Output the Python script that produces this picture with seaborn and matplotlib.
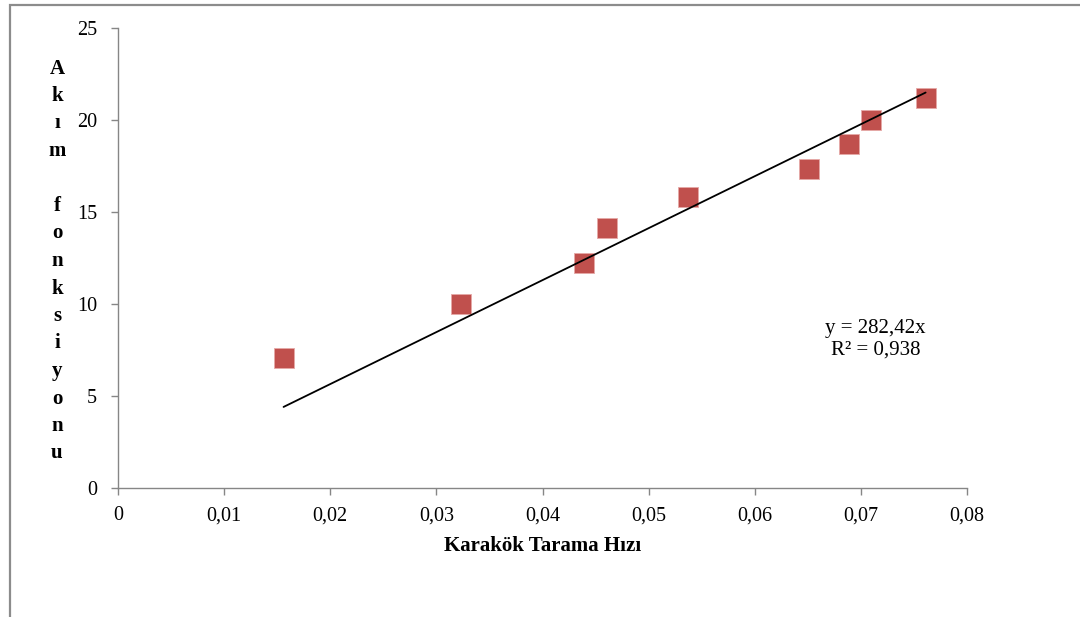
import matplotlib
matplotlib.use("Agg")
import matplotlib.pyplot as plt
import seaborn as sns
import numpy as np
import pandas as pd
from matplotlib.patches import Rectangle

# ---- data ----
scan_rate = [0.0156, 0.0323, 0.0439, 0.0461, 0.0537, 0.0651, 0.0689, 0.0710, 0.0761]
current_fn = [7.07, 10.0, 12.23, 14.13, 15.82, 17.34, 18.70, 20.0, 21.2]
slope = 282.42
r2 = 0.938
x_ticks = [0, 0.01, 0.02, 0.03, 0.04, 0.05, 0.06, 0.07, 0.08]
x_tick_labels = ["0", "0,01", "0,02", "0,03", "0,04", "0,05", "0,06", "0,07", "0,08"]
y_ticks = [0, 5, 10, 15, 20, 25]
x_label = "Karakök Tarama Hızı"
y_label = "Akım fonksiyonu"

sns.set_style("white")
plt.rcParams['font.family'] = ['Liberation Serif', 'DejaVu Serif']
plt.rcParams['text.color'] = 'black'

fig = plt.figure(figsize=(10.8, 6.17), dpi=100)
ax = fig.add_axes([118/1080, 1-488/617, (967-118)/1080, (488-28)/617])

df = pd.DataFrame({"x": scan_rate, "y": current_fn})
sns.scatterplot(data=df, x="x", y="y", marker="s", s=200, color="#C0504D",
                edgecolor="#E6A9A7", linewidth=0.6, ax=ax, zorder=3)

xs = np.array([min(scan_rate), max(scan_rate)])
trend = pd.DataFrame({"x": xs, "y": slope * xs})
sns.lineplot(data=trend, x="x", y="y", color="black", linewidth=1.3, ax=ax, zorder=4)

ax.set_xlim(0, 0.08)
ax.set_ylim(0, 25)
ax.set_xticks(x_ticks)
ax.set_xticklabels(x_tick_labels)
ax.set_yticks(y_ticks)
ax.set_yticklabels([str(v) for v in y_ticks])
ax.tick_params(axis="both", direction="out", length=5, width=1, color="#868686",
               labelsize=14.5, labelcolor="black", bottom=True, left=True)
ax.tick_params(axis="x", pad=8)
ax.tick_params(axis="y", pad=10)
for side in ["top", "right"]:
    ax.spines[side].set_visible(False)
for side in ["left", "bottom"]:
    ax.spines[side].set_color("#868686")
    ax.spines[side].set_linewidth(1)
ax.set_xlabel("")
ax.set_ylabel("")
ax.grid(False)

fig.text((441+645)/2/1080, 1-546/617, x_label, ha="center", va="center",
         fontsize=15, fontweight="bold")
fig.text(57/1080, 1-261/617, "\n".join(y_label), ha="center", va="center",
         fontsize=15, fontweight="bold", linespacing=1.50, multialignment="center")

ax.text(0.0714, 8.1, f"y = {slope:.2f}x".replace(".", ",") + "\n" + f"R² = {r2}".replace(".", ","),
        ha="center", va="center", fontsize=15, multialignment="center")

fig.patches.append(Rectangle((10/1080, -0.1), 1.2, 1 - 5/617 + 0.1, transform=fig.transFigure,
                             fill=False, edgecolor="#8C8C8C", linewidth=1.6, zorder=0))

fig.savefig("out.png", dpi=100, facecolor="white")
